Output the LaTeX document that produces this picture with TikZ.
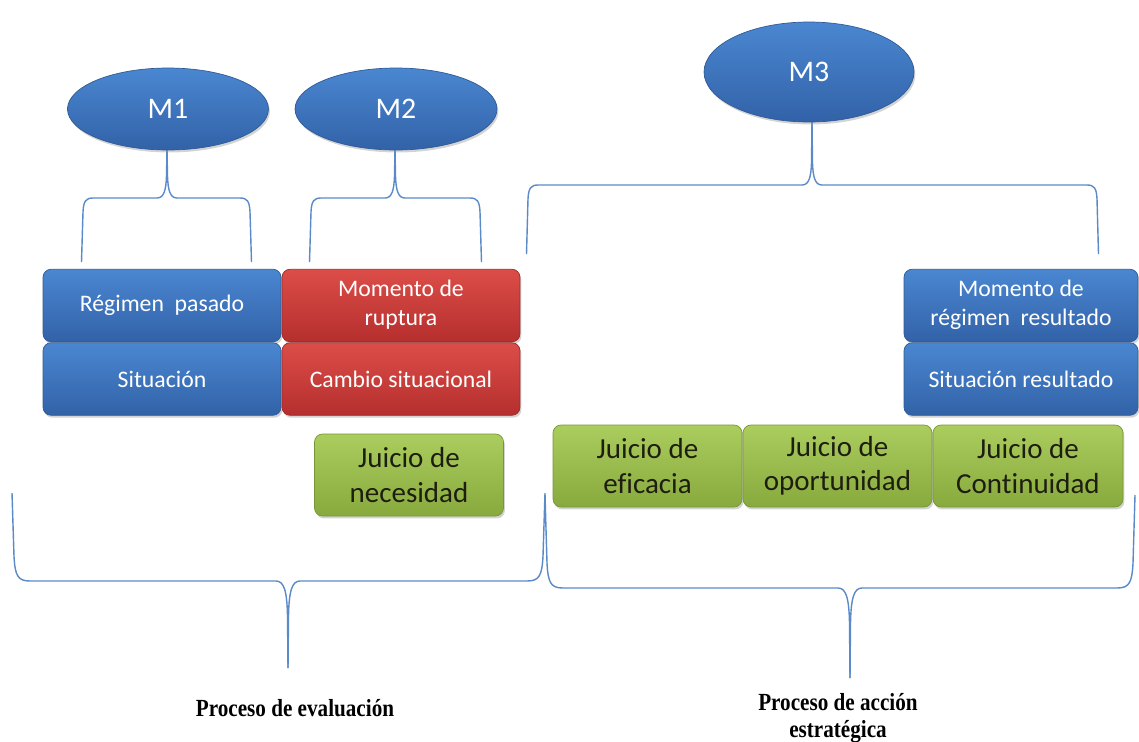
\documentclass[tikz,border=0pt]{standalone}
\usepackage{fontspec}
\setmainfont{Carlito}[Ligatures=NoCommon]
\newfontfamily\labelfont{Liberation Serif}
\usetikzlibrary{shapes.geometric,shadows}
\definecolor{bluetop}{HTML}{4A87D1}
\definecolor{bluebot}{HTML}{3262A8}
\definecolor{blueline}{HTML}{2F5B96}
\definecolor{redtop}{HTML}{DC4D48}
\definecolor{redbot}{HTML}{B52F2E}
\definecolor{redline}{HTML}{9A2B29}
\definecolor{greentop}{HTML}{ABCD5E}
\definecolor{greenbot}{HTML}{88A93D}
\definecolor{greenline}{HTML}{779736}
\definecolor{bracecol}{HTML}{5A8AC8}
\definecolor{gtext}{HTML}{1E1E10}
\tikzset{
  shad/.style={drop shadow={shadow xshift=0.8pt,shadow yshift=-1.4pt,opacity=0.35}},
  boxbase/.style={rounded corners=0.16cm, line width=0.4pt, align=center, inner sep=0pt, shad},
  bluebox/.style={boxbase, top color=bluetop, bottom color=bluebot, draw=blueline, text=white,
     font=\fontsize{13.5}{16.5}\selectfont, minimum width=4.76cm, minimum height=1.45cm},
  redbox/.style={boxbase, top color=redtop, bottom color=redbot, draw=redline, text=white,
     font=\fontsize{13.5}{16.5}\selectfont, minimum width=4.76cm, minimum height=1.45cm},
  greenbox/.style={boxbase, top color=greentop, bottom color=greenbot, draw=greenline, text=gtext,
     font=\fontsize{16.5}{19.5}\selectfont, minimum width=3.78cm, minimum height=1.64cm},
  mell/.style={ellipse, top color=bluetop, bottom color=bluebot, draw=blueline, line width=0.4pt,
     text=white, font=\fontsize{17}{20}\selectfont, inner sep=0pt, shad},
  bracel/.style={draw=bracecol, line width=0.8pt},
  proclabel/.style={font=\labelfont\bfseries\fontsize{14}{15.5}\selectfont, align=center, inner sep=0pt}
}
\newcommand{\TwoLines}[2]{\raisebox{-2pt}{\begin{tabular}{@{}c@{}}#1\\#2\end{tabular}}}
% brace opening downwards (tip up): xl, xr, xt, yh, yb, ytip
\newcommand{\BraceUp}[6]{%
  \draw[bracel] (#1-1.5,#5) -- (#1,#4+14) .. controls (#1+0.5,#4+3) and (#1+3,#4) .. (#1+10,#4)
     -- (#3-10,#4) .. controls (#3-3,#4) and (#3-1,#4-8) .. (#3-0.5,#4-22) -- (#3,#6);
  \draw[bracel] (#3,#6) -- (#3+0.5,#4-22) .. controls (#3+1,#4-8) and (#3+3,#4) .. (#3+10,#4)
     -- (#2-10,#4) .. controls (#2-3,#4) and (#2-0.5,#4+3) .. (#2,#4+14) -- (#2+1.5,#5);
}
% brace opening upwards (tip down): xl, xr, xt, yh, ytop, ytip
\newcommand{\BraceDown}[6]{%
  \draw[bracel] (#1,#5) -- (#1+2,#4-25) .. controls (#1+3,#4-5) and (#1+6,#4) .. (#1+18,#4)
     -- (#3-12,#4) .. controls (#3-4,#4) and (#3-1,#4+10) .. (#3-0.5,#4+35) -- (#3,#6);
  \draw[bracel] (#3,#6) -- (#3+0.5,#4+35) .. controls (#3+1,#4+10) and (#3+4,#4) .. (#3+12,#4)
     -- (#2-18,#4) .. controls (#2-6,#4) and (#2-3,#4-5) .. (#2-2,#4-25) -- (#2,#5);
}
\begin{document}
\begin{tikzpicture}[x=0.02cm,y=-0.02cm]
\useasboundingbox (0,0) rectangle (1139,741);

% braces
\BraceUp{83}{250}{167}{198}{262}{150}
\BraceUp{311}{480}{395}{198}{262}{150}
\BraceUp{528}{1097}{812}{185}{254}{122}
\BraceDown{12}{545}{288}{581}{493}{668}
\BraceDown{545}{1135}{850}{588}{495}{678}

% ellipses
\node[mell, minimum width=4.02cm, minimum height=1.64cm] (m1) at (168,109) {M1};
\node[mell, minimum width=4.04cm, minimum height=1.64cm] (m2) at (396,109) {M2};
\node[mell, minimum width=4.2cm, minimum height=2.0cm] (m3) at (809,72) {M3};

% left boxes
\node[bluebox] (rp) at (162,305.5) {Régimen\ \ pasado};
\node[bluebox] (sit) at (162,379) {Situación};
\node[redbox] (mr) at (401,305.5) {\TwoLines{Momento de}{ruptura}};
\node[redbox] (cs) at (401,379) {Cambio situacional};
\node[greenbox] (jn) at (409,475) {Juicio de\\necesidad};

% right boxes
\node[bluebox, minimum width=4.68cm] (mrr) at (1021,305.5) {\TwoLines{Momento de}{régimen\ \ resultado}};
\node[bluebox, minimum width=4.68cm] (sr) at (1021,379) {Situación resultado};
\node[greenbox] (je) at (647.5,466) {Juicio de\\eficacia};
\node[greenbox] (jo) at (837.5,466) {Juicio de\\oportunidad};
\node[greenbox, minimum width=3.8cm] (jc) at (1028,466) {Juicio de\\Continuidad};

% labels
\node[proclabel] (pe) at (295,708) {\scalebox{0.86}[1]{Proceso de evaluación}};
\node[proclabel] (pa) at (838,718) {\scalebox{0.86}[1]{Proceso de acción}\\\scalebox{0.86}[1]{estratégica}};
\end{tikzpicture}
\end{document}
